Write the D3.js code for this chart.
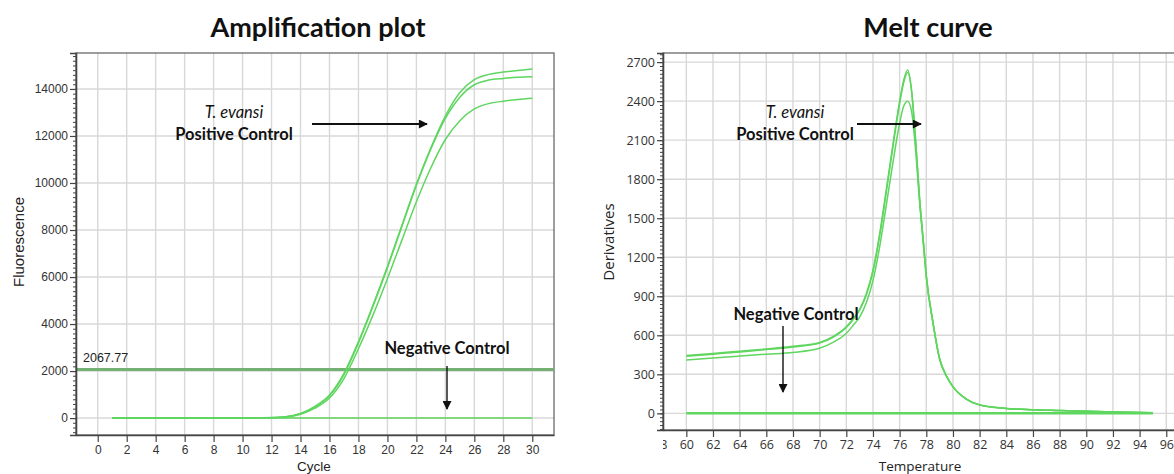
<!DOCTYPE html>
<html>
<head>
<meta charset="utf-8">
<script src="https://cdn.jsdelivr.net/npm/d3@7"></script>
<style>
  body { margin: 0; background: #fff; }
  svg { display: block; }
  .grid line { stroke: #d8d8d8; stroke-width: 1.4; }
</style>
</head>
<body>
<svg id="chart" width="1174" height="474"></svg>
<script>
// Amplification plot data (cycle vs fluorescence)
var cycles = [1, 2, 3, 4, 5, 6, 7, 8, 9, 10, 11, 12, 13, 14, 15, 16, 17, 18, 19, 20,
  21, 22, 23, 24, 25, 26, 27, 28, 29, 30];
var ampA = [0, 0, 0, 0, 0, 0, 0, 0, 0, 5, 10, 20, 60, 200, 500, 980, 1900, 3250, 4800, 6450,
  8200, 9950, 11500, 12850, 13850, 14400, 14620, 14720, 14790, 14850];
var ampB = [0, 0, 0, 0, 0, 0, 0, 0, 0, 5, 10, 18, 55, 190, 480, 950, 1850, 3200, 4750, 6400,
  8150, 9900, 11450, 12750, 13650, 14180, 14380, 14450, 14500, 14520];
var ampC = [0, 0, 0, 0, 0, 0, 0, 0, 0, 4, 8, 15, 45, 160, 420, 850, 1680, 2950, 4380, 5930,
  7570, 9200, 10650, 11850, 12650, 13150, 13380, 13480, 13550, 13600];
var ampNegCycles = [1, 30];
var ampNeg = [0, 0];
var threshold = 2067.77;
var ampXTicks = [0, 2, 4, 6, 8, 10, 12, 14, 16, 18, 20, 22, 24, 26, 28, 30];
var ampYTicks = [0, 2000, 4000, 6000, 8000, 10000, 12000, 14000];

// Melt curve data (temperature vs derivative)
var temps = [60, 62, 64, 66, 68, 70, 71, 72, 72.5, 73, 73.5, 74, 74.5, 75, 75.5, 76, 76.3, 76.6,
  76.9, 77.2, 77.5, 77.8, 78, 78.5, 79, 79.5, 80, 81, 82, 84, 86, 88, 90, 92, 95];
var meltA = [445, 460, 478, 495, 515, 545, 590, 665, 725, 800, 920, 1100, 1380, 1720, 2070, 2400, 2560, 2640,
  2480, 2100, 1650, 1300, 1060, 700, 420, 290, 205, 110, 65, 38, 28, 22, 16, 11, 5];
var meltB = [438, 455, 472, 490, 510, 540, 585, 660, 720, 795, 910, 1090, 1360, 1700, 2050, 2380, 2540, 2620,
  2470, 2090, 1640, 1290, 1055, 698, 418, 289, 204, 110, 65, 38, 28, 22, 16, 11, 5];
var meltC = [410, 425, 440, 455, 468, 500, 545, 615, 675, 740, 850, 1020, 1280, 1600, 1930, 2230, 2360, 2400,
  2320, 2020, 1620, 1280, 1050, 695, 416, 288, 203, 109, 64, 38, 28, 22, 16, 11, 5];
var meltNegTemps = [60, 95];
var meltNeg = [0, 0];
var meltXTicks = [58, 60, 62, 64, 66, 68, 70, 72, 74, 76, 78, 80, 82, 84, 86, 88, 90, 92, 94, 96];
var meltYTicks = [0, 300, 600, 900, 1200, 1500, 1800, 2100, 2400, 2700];

var svg = d3.select("#chart");
var curveColor = "#5fd65f";

function drawPanel(p) {
  var x = d3.scaleLinear().domain(p.xDomain).range(p.xRange),
    y = d3.scaleLinear().domain(p.yDomain).range(p.yRange);
  var g = svg.append("g");
  var left = p.xRange[0], right = p.xRange[1], top = p.yRange[1], bottom = p.yRange[0];

  // Grid
  var grid = g.append("g").attr("class", "grid");
  grid.selectAll("line.v").data(p.xTicks.filter(function(t) { return x(t) > left; }))
    .enter().append("line")
      .attr("x1", function(d) { return x(d); }).attr("x2", function(d) { return x(d); })
      .attr("y1", top).attr("y2", bottom);
  grid.selectAll("line.h").data(p.yTicks)
    .enter().append("line")
      .attr("x1", left).attr("x2", right)
      .attr("y1", function(d) { return y(d); }).attr("y2", function(d) { return y(d); });

  // Frame
  g.append("rect")
    .attr("x", left).attr("y", top)
    .attr("width", right - left).attr("height", bottom - top)
    .attr("fill", "none").attr("stroke", "#6a6a6a").attr("stroke-width", 1.3);

  // Threshold line
  if (p.threshold != null) {
    g.append("line")
      .attr("x1", left).attr("x2", right)
      .attr("y1", y(p.threshold)).attr("y2", y(p.threshold))
      .attr("stroke", "#74b074").attr("stroke-width", 3);
    g.append("text")
      .attr("x", left + 7).attr("y", y(p.threshold) - 7)
      .attr("font-family", "Liberation Sans, Arial, sans-serif")
      .attr("font-size", 12.5).attr("fill", "#222")
      .text("2067.77");
  }

  // Curves
  var line = d3.line()
    .x(function(d) { return x(d[0]); })
    .y(function(d) { return y(d[1]); })
    .curve(d3.curveMonotoneX);

  p.series.forEach(function(s) {
    g.append("path")
      .datum(d3.zip(s.x, s.y))
      .attr("fill", "none")
      .attr("stroke", curveColor)
      .attr("stroke-width", s.width)
      .attr("d", line);
  });

  // Axes
  var yAxis = g.append("g")
    .attr("transform", "translate(" + left + ",0)")
    .call(d3.axisLeft(y).tickValues(p.yTicks).tickSize(6).tickPadding(2).tickFormat(d3.format("d")));
  g.append("g")
    .attr("transform", "translate(" + left + ",0)")
    .call(d3.axisLeft(y).tickValues(d3.range(p.minorStart, p.yDomain[1], p.minorStep)).tickSize(3).tickFormat(""))
    .call(function(a) { a.select(".domain").remove(); });
  var xAxisG = g.append("g")
    .attr("transform", "translate(0," + bottom + ")");
  if (p.clipLabels) xAxisG.attr("clip-path", "url(#" + p.clipLabels + ")");
  xAxisG.call(d3.axisBottom(x).tickValues(p.xTicks).tickSize(7).tickPadding(3).tickSizeOuter(0));

  [yAxis, xAxisG].forEach(function(a) {
    a.selectAll("text").attr("font-family", p.tickFont).attr("font-size", p.tickSize).attr("fill", "#333");
    a.selectAll("line").attr("stroke", "#444").attr("stroke-width", 1.2);
    a.select(".domain").attr("stroke", "#444").attr("stroke-width", 1.6);
  });
  g.selectAll(".tick line").attr("stroke", "#444");

  // Titles and labels
  g.append("text")
    .attr("x", p.titleX).attr("y", 37)
    .attr("text-anchor", "middle")
    .attr("font-family", "Lato, sans-serif").attr("font-weight", "bold").attr("font-size", 27)
    .attr("fill", "#111")
    .text(p.title);
  g.append("text")
    .attr("x", p.xLabelX).attr("y", 471)
    .attr("text-anchor", "middle")
    .attr("font-family", p.tickFont).attr("font-size", 13.5).attr("fill", "#222")
    .text(p.xLabel);
  g.append("text")
    .attr("transform", "translate(" + p.yLabelX + ",242) rotate(-90)")
    .attr("text-anchor", "middle")
    .attr("font-family", p.tickFont).attr("font-size", 15).attr("fill", "#222")
    .text(p.yLabel);

  // Annotations
  var ann = g.append("g")
    .attr("font-family", "Lato, sans-serif").attr("font-size", 16.5).attr("fill", "#111");
  ann.append("text")
    .attr("x", p.posText[0]).attr("y", p.posText[1] - 22)
    .attr("text-anchor", "middle").attr("font-style", "italic")
    .text("T. evansi");
  ann.append("text")
    .attr("x", p.posText[0]).attr("y", p.posText[1])
    .attr("text-anchor", "middle").attr("font-weight", "bold")
    .text("Positive Control");
  ann.append("text")
    .attr("x", p.negText[0]).attr("y", p.negText[1])
    .attr("text-anchor", "middle").attr("font-weight", "bold")
    .text("Negative Control");

  g.append("line")
    .attr("x1", p.posArrow[0]).attr("y1", p.posArrow[1])
    .attr("x2", p.posArrow[2]).attr("y2", p.posArrow[1])
    .attr("stroke", "#111").attr("stroke-width", 2)
    .attr("marker-end", "url(#arrow)");
  g.append("line")
    .attr("x1", p.negArrow[0]).attr("y1", p.negArrow[1])
    .attr("x2", p.negArrow[0]).attr("y2", p.negArrow[2])
    .attr("stroke", "#111").attr("stroke-width", 1.4)
    .attr("marker-end", "url(#arrow)");
}

var defs = svg.append("defs");
defs.append("marker")
  .attr("id", "arrow")
  .attr("viewBox", "0 0 10 10")
  .attr("refX", 9).attr("refY", 5)
  .attr("markerWidth", 12).attr("markerHeight", 9)
  .attr("markerUnits", "userSpaceOnUse")
  .attr("orient", "auto")
  .append("path")
    .attr("d", "M0,0 L10,5 L0,10 z")
    .attr("fill", "#111");
// the reference crop cuts the "58" label so only its right edge shows
defs.append("clipPath").attr("id", "meltClip")
  .append("rect").attr("x", 663).attr("y", -20).attr("width", 600).attr("height", 60);

drawPanel({
  xDomain: [-1.5, 31.5], xRange: [76, 554],
  yDomain: [-720, 15530], yRange: [435, 53],
  xTicks: ampXTicks, yTicks: ampYTicks,
  minorStart: -600, minorStep: 200,
  tickFont: "Liberation Sans, Arial, sans-serif", tickSize: 12,
  threshold: threshold,
  series: [
    {x: cycles, y: ampA, width: 1.5},
    {x: cycles, y: ampB, width: 1.5},
    {x: cycles, y: ampC, width: 1.5},
    {x: ampNegCycles, y: ampNeg, width: 1.5}
  ],
  title: "Amplification plot", titleX: 318, xLabelX: 314,
  xLabel: "Cycle", yLabel: "Fluorescence", yLabelX: 24,
  posText: [234, 140], posArrow: [312, 124, 427],
  negText: [447, 354], negArrow: [447, 366, 409]
});

drawPanel({
  xDomain: [58.25, 97.78], xRange: [663, 1190],
  yDomain: [-128, 2770], yRange: [430, 53],
  xTicks: meltXTicks, yTicks: meltYTicks,
  minorStart: -120, minorStep: 30,
  tickFont: "Open Sans, sans-serif", tickSize: 12.5,
  threshold: null,
  clipLabels: "meltClip",
  series: [
    {x: temps, y: meltA, width: 1.5},
    {x: temps, y: meltB, width: 1.5},
    {x: temps, y: meltC, width: 1.5},
    {x: meltNegTemps, y: meltNeg, width: 2.5}
  ],
  title: "Melt curve", titleX: 928, xLabelX: 920,
  xLabel: "Temperature", yLabel: "Derivatives", yLabelX: 614,
  posText: [795, 140], posArrow: [857, 124, 921],
  negText: [796, 320], negArrow: [783, 326, 392]
});
</script>
</body>
</html>
